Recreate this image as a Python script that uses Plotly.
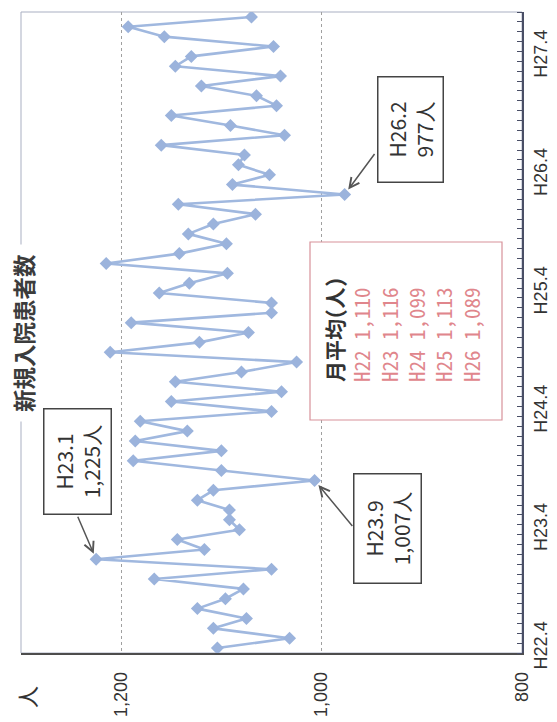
import plotly.graph_objects as go

# ---------------- data ----------------
# monthly labels from H22.4 (Apr 2010) to H27.8
months = [f"H{22 + (i + 3) // 12}.{(i + 3) % 12 + 1}" for i in range(65)]

admissions = [
    1104, 1032, 1108, 1075, 1124, 1096, 1078, 1167, 1050, 1225, 1117, 1144,   # H22
    1082, 1092, 1092, 1124, 1108, 1007, 1100, 1188, 1100, 1186, 1134, 1181,   # H23
    1050, 1150, 1040, 1146, 1080, 1025, 1211, 1122, 1073, 1190, 1050, 1050,   # H24
    1162, 1132, 1094, 1215, 1142, 1095, 1133, 1108, 1066, 1143, 977, 1089,    # H25
    1052, 1083, 1077, 1160, 1037, 1091, 1150, 1045, 1065, 1120, 1041, 1146,   # H26
    1130, 1048, 1157, 1193, 1070,                                             # H27
]

tick_months = ["H22.4", "H23.4", "H24.4", "H25.4", "H26.4", "H27.4"]
value_ticks = [800, 1000, 1200]
value_tick_text = ["800", "1,000", "1,200"]

avg_years = ["H22", "H23", "H24", "H25", "H26"]
avg_values = ["1,110", "1,116", "1,099", "1,113", "1,089"]

callouts = [("H23.1", 1225), ("H23.9", 1007), ("H26.2", 977)]

title_text = "新規入院患者数"
unit_text = "人"
avg_title = "月平均(人)"

# ---------------- layout helpers ----------------
OFF = 8                                  # default page (body) margin
W, H = 557 - OFF, 722 - OFF
# plot area in page pixels
PL, PR, PT, PB = 21, 522, 12, 653
L, R, T, B = PL - OFF, PR - OFF, PT - OFF, PB - OFF


def px(x):          # page pixel -> paper
    return (x - OFF - L) / (R - L)


def py(y):
    return (B - (y - OFF)) / (B - T)


idx = list(range(len(months)))
line_color = "#A0B8DF"

fig = go.Figure()
fig.add_trace(go.Scatter(
    x=admissions, y=idx, mode="lines+markers",
    line=dict(color=line_color, width=2.6),
    marker=dict(symbol="diamond", size=10, color="#9BB3DC"),
    hoverinfo="skip", showlegend=False,
))

tick_font = dict(family="Liberation Sans, Arial, sans-serif", size=18, color="#333333")

fig.update_layout(
    width=W, height=H,
    margin=dict(l=L, r=W - R, t=T, b=H - B, autoexpand=False),
    paper_bgcolor="white", plot_bgcolor="white",
    showlegend=False,
    xaxis=dict(
        range=[1300, 800], automargin=False,
        tickmode="array", tickvals=value_ticks, ticktext=value_tick_text,
        tickangle=-90, tickfont=tick_font, ticks="", ticklabelstandoff=10,
        showgrid=True, gridcolor="#A0A0A0", gridwidth=1, griddash="dot",
        showline=True, linecolor="#4d4d4d", linewidth=1.6,
        zeroline=False,
    ),
    yaxis=dict(
        range=[-0.5, len(months) - 0.5], automargin=False,
        side="right",
        tickmode="array", tickvals=[months.index(m) for m in tick_months],
        ticktext=tick_months,
        tickangle=-90, tickfont=tick_font, ticks="", ticklabelstandoff=2,
        showgrid=False, zeroline=False,
        showline=True, linecolor="#4a4f66", linewidth=1.6,
        minor=dict(ticks="inside", ticklen=5, tickcolor="#4a4f66", tickwidth=1,
                   tickmode="linear", tick0=0.5, dtick=1, showgrid=False),
    ),
)

# plot-area frame (top / left borders, light)
fig.add_shape(type="rect", xref="paper", yref="paper", x0=0, x1=1, y0=0, y1=1,
              line=dict(color="#A9AFC2", width=1), layer="below")

centre = dict(xanchor="center", yanchor="middle")

# title (white background covers the frame)
fig.add_annotation(xref="paper", yref="paper", x=px(23), y=py(333),
                   text=f"<b>{title_text}</b>", textangle=-90, showarrow=False,
                   font=dict(family="Noto Sans CJK JP", size=22.5, color="#3c3c3c"),
                   bgcolor="white", borderpad=9, **centre)

# unit label
fig.add_annotation(xref="paper", yref="paper", x=px(26), y=py(697),
                   text=unit_text, textangle=-90, showarrow=False,
                   font=dict(family="Noto Sans CJK JP", size=22, color="#333333"), **centre)

# callout boxes (page-pixel centre, size) and arrow tails
box_geo = [((77.5, 461.5), (107, 69)), ((387.5, 528.5), (111, 69)), ((410.5, 129.5), (107, 67))]
tails = [(-19, -44), (39, 47), (31, -42)]
for (m, v), ((cx, cy), (bl, bw)), (ax, ay) in zip(callouts, box_geo, tails):
    fig.add_annotation(xref="paper", yref="paper", x=px(cx), y=py(cy),
                       text=f"{m}<br>{v:,}人", textangle=-90, showarrow=False,
                       font=dict(family="Noto Sans CJK JP", size=21, color="#333333"),
                       bgcolor="white", bordercolor="#444444", borderwidth=1.5,
                       borderpad=2, width=bl - 7, height=bw - 7, align="center", **centre)
    fig.add_annotation(x=v, y=months.index(m), xref="x", yref="y", text="",
                       showarrow=True, ax=ax, ay=ay, arrowhead=5, arrowsize=1.3,
                       arrowwidth=1.5, arrowcolor="#555555", standoff=6)

# monthly average box
fig.add_shape(type="rect", xref="paper", yref="paper",
              x0=px(310), x1=px(502), y0=py(420), y1=py(242),
              line=dict(color="#D8929A", width=1.2), fillcolor="white", layer="above")
avg_lines = [f"<b>{avg_title}</b>"] + [
    f"<span style='color:#E0868C'>{y} {v}</span>" for y, v in zip(avg_years, avg_values)
]
fig.add_annotation(xref="paper", yref="paper", x=px(402), y=py(330),
                   text="<br>".join(avg_lines), textangle=-90, showarrow=False,
                   align="left",
                   font=dict(family="Noto Sans Mono CJK JP, Noto Sans CJK JP, monospace",
                             size=21, color="#333333"), **centre)

fig.write_html("out.html")
